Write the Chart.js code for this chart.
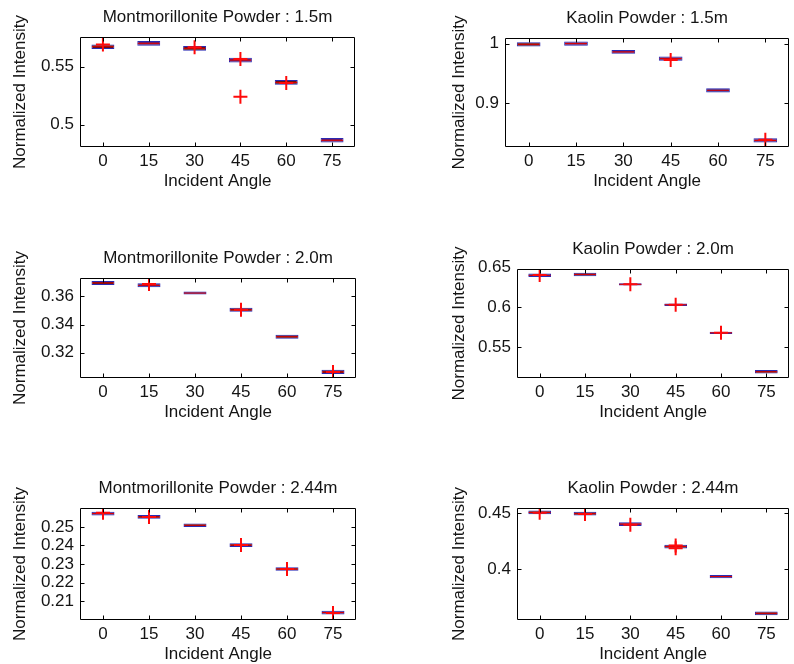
<!DOCTYPE html>
<html><head><meta charset="utf-8">
<script src="https://cdn.jsdelivr.net/npm/chart.js@4.4.1/dist/chart.umd.min.js"></script>
<style>
html,body{margin:0;padding:0;background:#fff;width:794px;height:664px;overflow:hidden;position:relative}
canvas{position:absolute;display:block}
</style></head><body>
<canvas id="c1"></canvas><canvas id="c2"></canvas><canvas id="c3"></canvas>
<canvas id="c4"></canvas><canvas id="c5"></canvas><canvas id="c6"></canvas>
<script>
// ---------- data ----------
const angles = ['0','15','30','45','60','75'];

// Montmorillonite Powder : 1.5m
const mont15Med = [0.5674, 0.5703, 0.5660, 0.5558, 0.5365, 0.4864];
const mont15Lo  = [0.5654, 0.5683, 0.5640, 0.5538, 0.5345, 0.4844];
const mont15Hi  = [0.5694, 0.5723, 0.5680, 0.5578, 0.5385, 0.4884];
const mont15Out = [['0',0.5693],['30',0.5670],['45',0.5567],['45',0.5240],['60',0.5360]];
const mont15Ticks = [0.5, 0.55];
const mont15TickLabels = ['0.5','0.55'];

// Kaolin Powder : 1.5m
const kaol15Med = [0.9988, 1.0000, 0.9860, 0.9747, 0.9214, 0.8370];
const kaol15Lo  = [0.9952, 0.9964, 0.9828, 0.9711, 0.9178, 0.8334];
const kaol15Hi  = [1.0024, 1.0036, 0.9892, 0.9783, 0.9250, 0.8406];
const kaol15Out = [['45',0.9725],['75',0.8384]];
const kaol15Ticks = [0.9, 1];
const kaol15TickLabels = ['0.9','1'];

// Montmorillonite Powder : 2.0m
const mont20Med = [0.3696, 0.3679, 0.3624, 0.3505, 0.3314, 0.3064];
const mont20Lo  = [0.3682, 0.3665, 0.3613, 0.3491, 0.3300, 0.3049];
const mont20Hi  = [0.3710, 0.3693, 0.3635, 0.3519, 0.3328, 0.3079];
const mont20Out = [['15',0.3689],['45',0.3505],['75',0.3064]];
const mont20Ticks = [0.32, 0.34, 0.36];
const mont20TickLabels = ['0.32','0.34','0.36'];

// Kaolin Powder : 2.0m
const kaol20Med = [0.6405, 0.6417, 0.6292, 0.6034, 0.5680, 0.5188];
const kaol20Lo  = [0.6383, 0.6395, 0.6278, 0.6018, 0.5665, 0.5166];
const kaol20Hi  = [0.6427, 0.6439, 0.6306, 0.6050, 0.5695, 0.5210];
const kaol20Out = [['0',0.6409],['30',0.6292],['45',0.6034],['60',0.5680]];
const kaol20Ticks = [0.55, 0.6, 0.65];
const kaol20TickLabels = ['0.55','0.6','0.65'];

// Montmorillonite Powder : 2.44m
const mont244Med = [0.2572, 0.2554, 0.2509, 0.2402, 0.2273, 0.2038];
const mont244Lo  = [0.2562, 0.2544, 0.2499, 0.2392, 0.2263, 0.2028];
const mont244Hi  = [0.2582, 0.2564, 0.2519, 0.2412, 0.2283, 0.2048];
const mont244Out = [['0',0.2576],['15',0.2554],['45',0.2402],['60',0.2273],['75',0.2036]];
const mont244Ticks = [0.21, 0.22, 0.23, 0.24, 0.25];
const mont244TickLabels = ['0.21','0.22','0.23','0.24','0.25'];

// Kaolin Powder : 2.44m
const kaol244Med = [0.4505, 0.4494, 0.4401, 0.4200, 0.3931, 0.3602];
const kaol244Lo  = [0.4488, 0.4477, 0.4384, 0.4183, 0.3917, 0.3585];
const kaol244Hi  = [0.4522, 0.4511, 0.4418, 0.4217, 0.3945, 0.3619];
const kaol244Out = [['0',0.4503],['15',0.4492],['30',0.4395],['45',0.4210],['45',0.4185]];
const kaol244Ticks = [0.4, 0.45];
const kaol244TickLabels = ['0.4','0.45'];

// ---------- styles ----------
const PUR = '#5e1f73', MAR = '#5a1414', NAV = '#1c1c8c';
const mont15Col  = [MAR, PUR, MAR, PUR, MAR, PUR];
const kaol15Col  = [MAR, PUR, PUR, PUR, NAV, PUR];
const mont20Col  = [MAR, NAV, NAV, MAR, MAR, MAR];
const kaol20Col  = [NAV, MAR, MAR, NAV, NAV, MAR];
const mont244Col = [PUR, MAR, MAR, MAR, MAR, PUR];
const kaol244Col = [MAR, MAR, PUR, MAR, NAV, MAR];

const FAM = "'Liberation Sans', Arial, sans-serif";
const TXT = '#141414';
Chart.defaults.font.family = FAM;
Chart.defaults.font.size = 17;
Chart.defaults.font.weight = 'normal';
Chart.defaults.color = TXT;
const fnt = () => ({family: FAM, size: 17, weight: 'normal'});

const framePlugin = {
  id: 'frame',
  afterDatasetsDraw(chart) {
    const {ctx, chartArea: a, scales} = chart;
    ctx.save();
    ctx.strokeStyle = '#000';
    ctx.lineWidth = 1;
    const L = Math.round(a.left) + 0.5, R = Math.round(a.right) - 0.5;
    const T = Math.round(a.top) + 0.5, B = Math.round(a.bottom) - 0.5;
    ctx.beginPath();
    ctx.rect(L, T, R - L, B - T);
    const tl = 4;
    scales.x.ticks.forEach((t, i) => {
      const x = Math.round(scales.x.getPixelForTick(i)) + 0.5;
      ctx.moveTo(x, B); ctx.lineTo(x, B - tl);
      ctx.moveTo(x, T); ctx.lineTo(x, T + tl);
    });
    scales.y.ticks.forEach(t => {
      const yy = scales.y.getPixelForValue(t.value);
      if (yy < a.top - 0.5 || yy > a.bottom + 0.5) return;
      const y = Math.round(yy) + 0.5;
      ctx.moveTo(L, y); ctx.lineTo(L + tl, y);
      ctx.moveTo(R, y); ctx.lineTo(R - tl, y);
    });
    ctx.stroke();
    ctx.restore();
  }
};

function makePlot(id, cfg) {
  const cv = document.getElementById(id);
  cv.width = cfg.w; cv.height = cfg.h;
  cv.style.left = cfg.left + 'px'; cv.style.top = cfg.top + 'px';
  cv.style.width = cfg.w + 'px'; cv.style.height = cfg.h + 'px';
  new Chart(cv, {
    type: 'bar',
    data: {
      labels: angles,
      datasets: [
        {
          type: 'line', data: cfg.out.map(([a, v]) => ({x: a, y: v})),
          showLine: false, pointStyle: 'cross', pointRadius: 7,
          pointBorderColor: '#ff0a0a', pointBorderWidth: 2, order: 1
        },
        {
          type: 'line', data: cfg.med.map((v, i) => ({x: angles[i], y: v})),
          showLine: false, pointStyle: 'line', pointRadius: 11,
          pointBorderColor: '#e00000', pointBorderWidth: 1, order: 2
        },
        {
          type: 'bar', data: cfg.lo.map((l, i) => [l, cfg.hi[i]]),
          backgroundColor: cfg.col, borderColor: '#2a2ab4', borderWidth: 1,
          borderSkipped: false,
          barPercentage: 0.5, categoryPercentage: 1, order: 3
        }
      ]
    },
    options: {
      responsive: false, animation: false, events: [],
      layout: {padding: {top: 4.3, left: 0, right: 1, bottom: 0}},
      plugins: {
        legend: {display: false}, tooltip: {enabled: false},
        title: {display: true, text: cfg.title, font: fnt(), color: TXT,
                padding: {top: 0, bottom: 9.3}, fullSize: false}
      },
      scales: {
        x: {
          type: 'category', offset: true,
          grid: {display: false, drawTicks: false}, border: {display: false},
          ticks: {font: fnt(), color: TXT, padding: 4, maxRotation: 0, autoSkip: false},
          title: {display: true, text: 'Incident Angle', font: fnt(), color: TXT, padding: {top: 0, bottom: 5}},
          afterFit: s => { s.height = 50; }
        },
        y: {
          type: 'linear', min: cfg.min, max: cfg.max,
          grid: {display: false, drawTicks: false}, border: {display: false},
          afterBuildTicks: s => { s.ticks = cfg.ticks.map(v => ({value: v})); },
          ticks: {font: fnt(), color: TXT, padding: 6, autoSkip: false,
                  callback: (v, i) => cfg.tickLabels[i]},
          title: {display: true, text: 'Normalized Intensity', font: fnt(), color: TXT,
                  padding: {top: cfg.ytp, bottom: 0}},
          afterFit: s => { s.width = cfg.yw; }
        }
      }
    },
    plugins: [framePlugin]
  });
}

makePlot('c1', {left: 0, top: 3, w: 367, h: 194, yw: 80, ytp: 9.8, min: 0.4806, max: 0.5758,
  title: 'Montmorillonite Powder : 1.5m', med: mont15Med, lo: mont15Lo, hi: mont15Hi, out: mont15Out,
  col: mont15Col, ticks: mont15Ticks, tickLabels: mont15TickLabels});
makePlot('c2', {left: 440, top: 4, w: 361, h: 193, yw: 65, ytp: 8.8, min: 0.826, max: 1.0094,
  title: 'Kaolin Powder : 1.5m', med: kaol15Med, lo: kaol15Lo, hi: kaol15Hi, out: kaol15Out,
  col: kaol15Col, ticks: kaol15Ticks, tickLabels: kaol15TickLabels});
makePlot('c3', {left: 0, top: 244, w: 368, h: 184, yw: 80, ytp: 9.8, min: 0.3021, max: 0.3731,
  title: 'Montmorillonite Powder : 2.0m', med: mont20Med, lo: mont20Lo, hi: mont20Hi, out: mont20Out,
  col: mont20Col, ticks: mont20Ticks, tickLabels: mont20TickLabels});
makePlot('c4', {left: 440, top: 235, w: 361, h: 193, yw: 77, ytp: 8.8, min: 0.511, max: 0.6485,
  title: 'Kaolin Powder : 2.0m', med: kaol20Med, lo: kaol20Lo, hi: kaol20Hi, out: kaol20Out,
  col: kaol20Col, ticks: kaol20Ticks, tickLabels: kaol20TickLabels});
makePlot('c5', {left: 0, top: 474, w: 368, h: 196, yw: 80, ytp: 9.8, min: 0.1998, max: 0.2602,
  title: 'Montmorillonite Powder : 2.44m', med: mont244Med, lo: mont244Lo, hi: mont244Hi, out: mont244Out,
  col: mont244Col, ticks: mont244Ticks, tickLabels: mont244TickLabels});
makePlot('c6', {left: 440, top: 474, w: 361, h: 196, yw: 77, ytp: 8.8, min: 0.3542, max: 0.4545,
  title: 'Kaolin Powder : 2.44m', med: kaol244Med, lo: kaol244Lo, hi: kaol244Hi, out: kaol244Out,
  col: kaol244Col, ticks: kaol244Ticks, tickLabels: kaol244TickLabels});
</script>
</body></html>
